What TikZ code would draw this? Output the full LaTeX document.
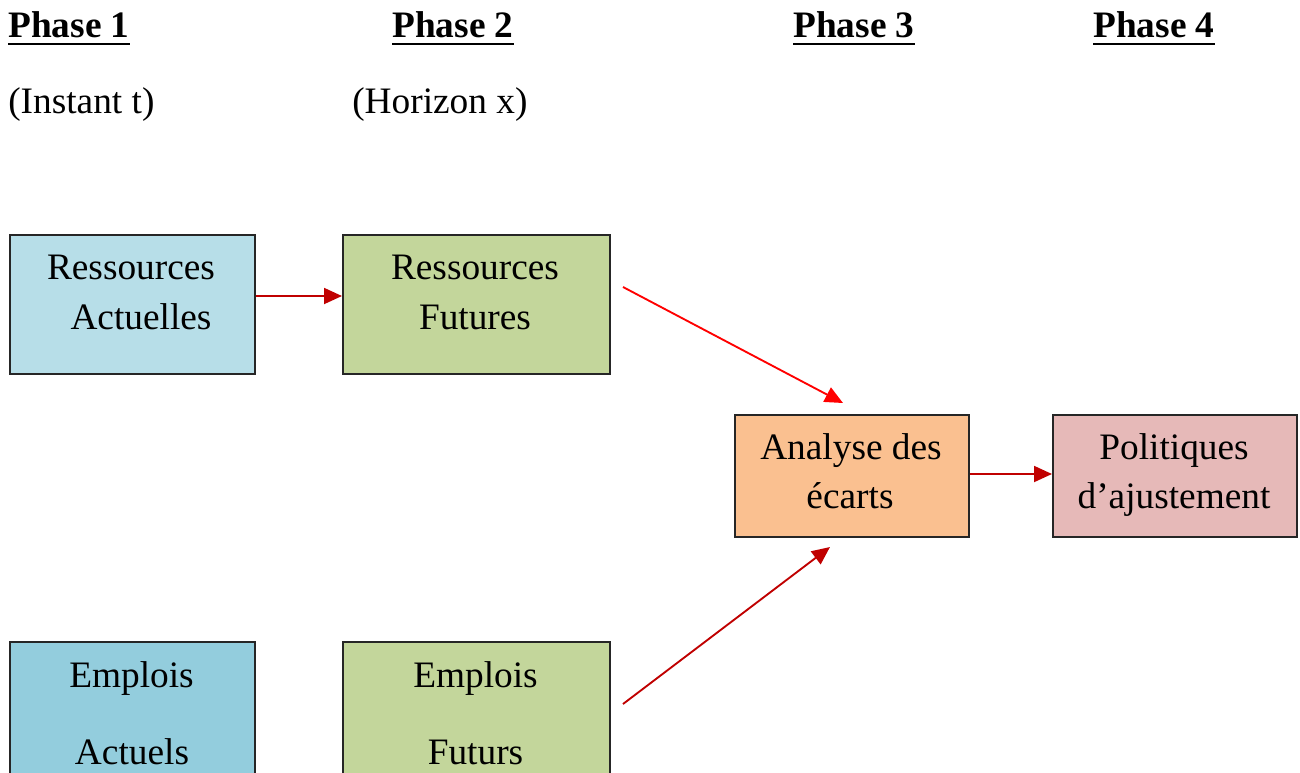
\documentclass[tikz,border=0pt]{standalone}
\usepackage{fontspec}
\setmainfont{Liberation Serif}
\usetikzlibrary{arrows.meta,calc}
\definecolor{cRA}{HTML}{B7DEE8}
\definecolor{cEA}{HTML}{93CDDD}
\definecolor{cF}{HTML}{C3D69B}
\definecolor{cAE}{HTML}{FAC090}
\definecolor{cPol}{HTML}{E6B9B8}
\definecolor{dred}{HTML}{C00000}
\definecolor{bred}{HTML}{FF0000}
\begin{document}
\begin{tikzpicture}[x=0.75pt,y=-0.75pt,
  box/.style={draw=black!85,line width=1.5pt,rectangle,anchor=north west,inner sep=0pt},
  txt/.style={inner sep=0pt,anchor=base,font=\fontsize{28}{33}\selectfont},
  head/.style={inner sep=0pt,anchor=base west,font=\fontsize{28}{33}\selectfont\bfseries},
  sub/.style={inner sep=0pt,anchor=base west,font=\fontsize{28}{33}\selectfont},
  uline/.style={line width=2pt},
  arr/.style={line width=1.4pt,-{Triangle[length=13.5pt,width=12pt]}}]
\clip (0,0) rectangle (1300,772);
\fill[white] (0,0) rectangle (1300,772);
% headings
\node[head] (h1) at (8,37) {Phase 1};
\node[head] (h2) at (392,37) {Phase 2};
\node[head] (h3) at (793,37) {Phase 3};
\node[head] (h4) at (1093,37) {Phase 4};
\foreach \h in {h1,h2,h3,h4}{
  \draw[uline] ($(\h.base west)+(0,7)$) -- ($(\h.base east)+(0,7)$);
}
\node[sub] (s1) at (8,113) {(Instant t)};
\node[sub] (s2) at (352,113) {(Horizon x)};
% boxes
\node[box,fill=cRA,minimum width=245*0.75pt,minimum height=139*0.75pt] (ra) at (9,234) {};
\node[box,fill=cF,minimum width=267*0.75pt,minimum height=139*0.75pt] (rf) at (342,234) {};
\node[box,fill=cAE,minimum width=234*0.75pt,minimum height=122*0.75pt] (ae) at (734,414) {};
\node[box,fill=cPol,minimum width=244*0.75pt,minimum height=122*0.75pt] (pol) at (1052,414) {};
\node[box,fill=cEA,minimum width=245*0.75pt,minimum height=200*0.75pt] (ea) at (9,641) {};
\node[box,fill=cF,minimum width=267*0.75pt,minimum height=200*0.75pt] (ef) at (342,641) {};
% texts
\node[txt] (ra1) at (131,279) {Ressources};
\node[txt] (ra2) at (141,329) {Actuelles};
\node[txt] (rf1) at (475,279) {Ressources};
\node[txt] (rf2) at (475,329) {Futures};
\node[txt] (ae1) at (851,459) {Analyse des};
\node[txt] (ae2) at (850,508) {écarts};
\node[txt] (po1) at (1174,459) {Politiques};
\node[txt] (po2) at (1174,508) {d’ajustement};
\node[txt] (ea1) at (131.5,687) {Emplois};
\node[txt] (ea2) at (132,764) {Actuels};
\node[txt] (ef1) at (475.5,687) {Emplois};
\node[txt] (ef2) at (475.5,764) {Futurs};
% connectors
\coordinate (d1s) at ($(rf.east)+(12,-17.5)$);
\coordinate (d1e) at ($(ae.north)+(-9,-11)$);
\coordinate (d2s) at ($(ef.north east)+(12,63)$);
\coordinate (d2e) at ($(ae.south)+(-22,9)$);
\draw[arr,dred] (ra.east |- 0,296) -- (rf.west |- 0,296);
\draw[arr,dred] (ea.west -| ra.east) ++(0,63) coordinate (eas) -- (eas -| ef.west);
\draw[arr,bred] (d1s) -- (d1e);
\draw[arr,dred] (d2s) -- (d2e);
\draw[arr,dred] (ae.east |- 0,474) -- (pol.west |- 0,474);
\end{tikzpicture}
\end{document}
